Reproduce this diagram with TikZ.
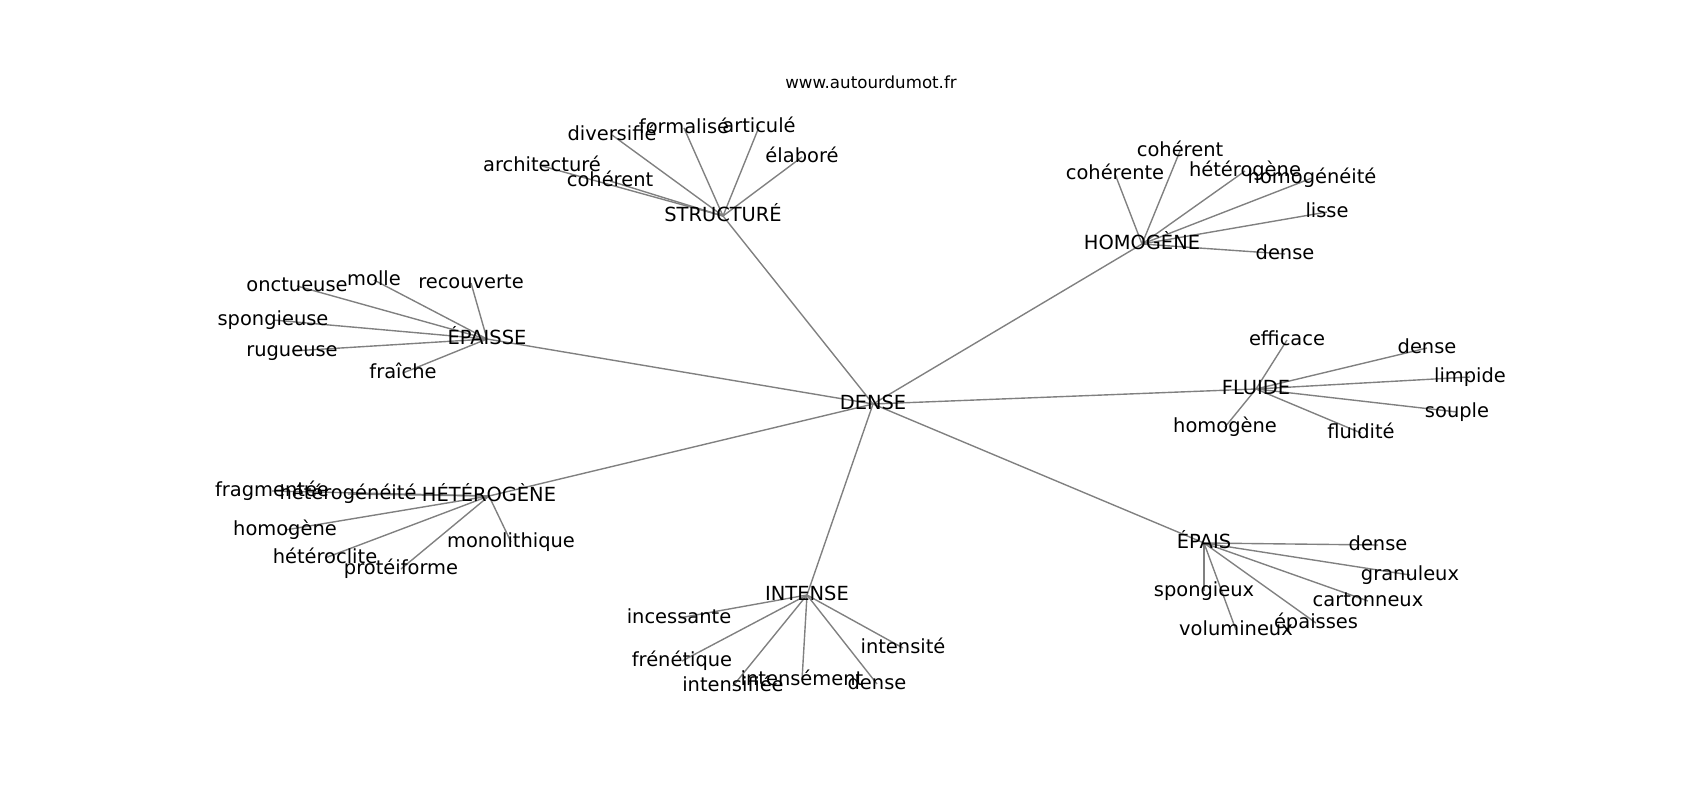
\documentclass[tikz,border=0pt]{standalone}
\usepackage{fontspec}
\setmainfont{DejaVu Sans}
\begin{document}
\begin{tikzpicture}[x=0.72pt,y=-0.72pt,
  lbl/.style={font=\fontsize{14pt}{16pt}\selectfont, inner sep=0pt, text height=0.76em, text depth=0.21em, anchor=center, yshift=-1pt},
  edge/.style={draw=gray, line width=1pt}]
\useasboundingbox (0,0) rectangle (1700,800);
% positions
\begin{scope}[shift={(0,3)}]
\coordinate (DENSE) at (873,401);
\coordinate (STR) at (723,213);
\coordinate (s1) at (612,132);
\coordinate (s2) at (684,125);
\coordinate (s3) at (759,124);
\coordinate (s4) at (802,154);
\coordinate (s5) at (542,163);
\coordinate (s6) at (610,178);
\coordinate (HOM) at (1142,241);
\coordinate (h1) at (1180,148);
\coordinate (h2) at (1115,171);
\coordinate (h3) at (1245,168);
\coordinate (h4) at (1312,175);
\coordinate (h5) at (1327,209);
\coordinate (h6) at (1285,251);
\coordinate (EPE) at (487,336);
\coordinate (e1) at (297,283);
\coordinate (e2) at (374,277);
\coordinate (e3) at (471,280);
\coordinate (e4) at (273,317);
\coordinate (e5) at (292,348);
\coordinate (e6) at (403,370);
\coordinate (HET) at (489,493);
\coordinate (t1) at (272,488);
\coordinate (t2) at (348,491);
\coordinate (t3) at (285,527);
\coordinate (t4) at (325,555);
\coordinate (t5) at (401,566);
\coordinate (t6) at (511,539);
\coordinate (INT) at (807,592);
\coordinate (i1) at (679,615);
\coordinate (i2) at (682,658);
\coordinate (i3) at (733,683);
\coordinate (i4) at (802,677);
\coordinate (i5) at (877,681);
\coordinate (i6) at (903,645);
\coordinate (EPA) at (1204,540);
\coordinate (p1) at (1378,542);
\coordinate (p2) at (1410,572);
\coordinate (p3) at (1368,598);
\coordinate (p4) at (1316,620);
\coordinate (p5) at (1236,627);
\coordinate (p6) at (1204,588);
\coordinate (FLU) at (1256,386);
\coordinate (f1) at (1287,337);
\coordinate (f2) at (1427,345);
\coordinate (f3) at (1470,374);
\coordinate (f4) at (1457,409);
\coordinate (f5) at (1361,430);
\coordinate (f6) at (1225,424);
\end{scope}
% edges
\foreach \c in {STR,HOM,EPE,HET,INT,EPA,FLU} \draw[edge] (DENSE) -- (\c);
\foreach \c in {s1,s2,s3,s4,s5,s6} \draw[edge] (STR) -- (\c);
\foreach \c in {h1,h2,h3,h4,h5,h6} \draw[edge] (HOM) -- (\c);
\foreach \c in {e1,e2,e3,e4,e5,e6} \draw[edge] (EPE) -- (\c);
\foreach \c in {t1,t2,t3,t4,t5,t6} \draw[edge] (HET) -- (\c);
\foreach \c in {i1,i2,i3,i4,i5,i6} \draw[edge] (INT) -- (\c);
\foreach \c in {p1,p2,p3,p4,p5,p6} \draw[edge] (EPA) -- (\c);
\foreach \c in {f1,f2,f3,f4,f5,f6} \draw[edge] (FLU) -- (\c);
% labels
\node[lbl] (nDENSE) at (DENSE) {DENSE};
\node[lbl] (nSTR) at (STR) {STRUCTURÉ};
\node[lbl] (ns1) at (s1) {diversifié};
\node[lbl] (ns2) at (s2) {formalisé};
\node[lbl] (ns3) at (s3) {articulé};
\node[lbl] (ns4) at (s4) {élaboré};
\node[lbl] (ns5) at (s5) {architecturé};
\node[lbl] (ns6) at (s6) {cohérent};
\node[lbl] (nHOM) at (HOM) {HOMOGÈNE};
\node[lbl] (nh1) at (h1) {cohérent};
\node[lbl] (nh2) at (h2) {cohérente};
\node[lbl] (nh3) at (h3) {hétérogène};
\node[lbl] (nh4) at (h4) {homogénéité};
\node[lbl] (nh5) at (h5) {lisse};
\node[lbl] (nh6) at (h6) {dense};
\node[lbl] (nEPE) at (EPE) {ÉPAISSE};
\node[lbl] (ne1) at (e1) {onctueuse};
\node[lbl] (ne2) at (e2) {molle};
\node[lbl] (ne3) at (e3) {recouverte};
\node[lbl] (ne4) at (e4) {spongieuse};
\node[lbl] (ne5) at (e5) {rugueuse};
\node[lbl] (ne6) at (e6) {fraîche};
\node[lbl] (nHET) at (HET) {HÉTÉROGÈNE};
\node[lbl] (nt1) at (t1) {fragmentée};
\node[lbl] (nt2) at (t2) {hétérogénéité};
\node[lbl] (nt3) at (t3) {homogène};
\node[lbl] (nt4) at (t4) {hétéroclite};
\node[lbl] (nt5) at (t5) {protéiforme};
\node[lbl] (nt6) at (t6) {monolithique};
\node[lbl] (nINT) at (INT) {INTENSE};
\node[lbl] (ni1) at (i1) {incessante};
\node[lbl] (ni2) at (i2) {frénétique};
\node[lbl] (ni3) at (i3) {intensifiée};
\node[lbl] (ni4) at (i4) {intensément};
\node[lbl] (ni5) at (i5) {dense};
\node[lbl] (ni6) at (i6) {intensité};
\node[lbl] (nEPA) at (EPA) {ÉPAIS};
\node[lbl] (np1) at (p1) {dense};
\node[lbl] (np2) at (p2) {granuleux};
\node[lbl] (np3) at (p3) {cartonneux};
\node[lbl] (np4) at (p4) {épaisses};
\node[lbl] (np5) at (p5) {volumineux};
\node[lbl] (np6) at (p6) {spongieux};
\node[lbl] (nFLU) at (FLU) {FLUIDE};
\node[lbl] (nf1) at (f1) {efficace};
\node[lbl] (nf2) at (f2) {dense};
\node[lbl] (nf3) at (f3) {limpide};
\node[lbl] (nf4) at (f4) {souple};
\node[lbl] (nf5) at (f5) {fluidité};
\node[lbl] (nf6) at (f6) {homogène};
\node[font=\fontsize{12pt}{14pt}\selectfont, inner sep=0pt] (title) at (871,82) {www.autourdumot.fr};
\end{tikzpicture}
\end{document}
